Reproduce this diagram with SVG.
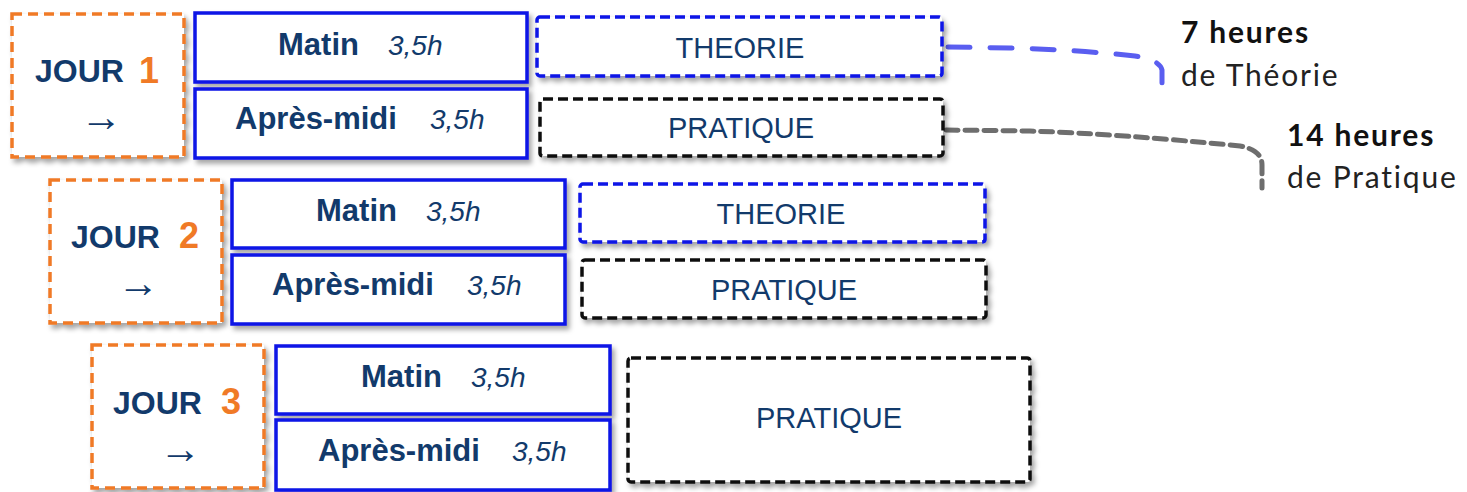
<svg xmlns="http://www.w3.org/2000/svg" width="1467" height="492" viewBox="0 0 1467 492">
<defs>
<filter id="sh" x="-10%" y="-20%" width="125%" height="150%">
<feDropShadow dx="3" dy="4" stdDeviation="2.5" flood-color="#000" flood-opacity="0.35"/>
</filter>
<style>
.jour{fill:#fff;stroke:#f07a26;stroke-width:3.5;stroke-dasharray:10 6}
.slot{fill:#fff;stroke:#0a14e6;stroke-width:3.5}
.theo{fill:#fff;stroke:#0a14e6;stroke-width:3.5;stroke-dasharray:10 5}
.prat{fill:#fff;stroke:#111;stroke-width:3.5;stroke-dasharray:10 5}
.jt{font-family:"Liberation Sans",Arial,sans-serif;font-weight:bold;font-size:32px;fill:#123a6b}
.num{font-family:"Liberation Sans",Arial,sans-serif;font-weight:bold;font-size:36px;fill:#f07a26}
.arr{font-family:"Liberation Serif",serif;font-size:42px;fill:#123a6b}
.st{font-family:"Liberation Sans",Arial,sans-serif;font-weight:bold;font-size:31px;fill:#123a6b}
.hr{font-family:"Liberation Sans",Arial,sans-serif;font-style:italic;font-size:28px;fill:#123a6b}
.lbl{font-family:"Liberation Sans",Arial,sans-serif;font-size:29px;fill:#123a6b;text-anchor:middle}
.rb{font-family:"Lato","Open Sans",sans-serif;font-weight:bold;font-size:30px;letter-spacing:1.8px;fill:#111}
.rn{font-family:"Lato","Open Sans",sans-serif;font-size:30px;letter-spacing:1.8px;fill:#222}
</style>
</defs>
<rect width="1467" height="492" fill="#fff"/>

<g id="connectors" fill="none" stroke-width="5" stroke-linecap="round">
<path d="M948 47 L1010 48 Q1080 50 1135 56 Q1160 60 1162 70 L1162 86" stroke="#5a5ef0" stroke-dasharray="22 20"/>
<path d="M946 130 L1030 131 Q1120 134 1240 146 Q1262 150 1262 165 L1262 188" stroke="#6e6e6e" stroke-dasharray="12 7"/>
</g>

<g id="day1">
<rect class="jour" x="12" y="14" width="172" height="143" filter="url(#sh)"/>
<text class="jt" x="35" y="82">JOUR</text>
<text class="num" x="139" y="83">1</text>
<text class="arr" x="80" y="131">→</text>
</g>
<g id="d1-matin"><rect class="slot" x="195" y="13" width="332" height="69" filter="url(#sh)"/>
<text class="st" x="278" y="55">Matin</text><text class="hr" x="388" y="55">3,5h</text></g>
<g id="d1-am"><rect class="slot" x="195" y="89" width="332" height="69" filter="url(#sh)"/>
<text class="st" x="235" y="129">Après-midi</text><text class="hr" x="430" y="129">3,5h</text></g>
<g id="d1-theorie"><rect class="theo" x="537" y="17" width="405" height="59" rx="3" filter="url(#sh)"/>
<text class="lbl" x="740" y="58">THEORIE</text></g>
<g id="d1-pratique"><rect class="prat" x="540" y="99" width="403" height="57" rx="3" filter="url(#sh)"/>
<text class="lbl" x="741" y="138">PRATIQUE</text></g>

<g id="day2">
<rect class="jour" x="50" y="180" width="172" height="143" filter="url(#sh)"/>
<text class="jt" x="71" y="248">JOUR</text>
<text class="num" x="179" y="248">2</text>
<text class="arr" x="117" y="297">→</text>
</g>
<g id="d2-matin"><rect class="slot" x="232" y="180" width="333" height="68" filter="url(#sh)"/>
<text class="st" x="316" y="221">Matin</text><text class="hr" x="426" y="221">3,5h</text></g>
<g id="d2-am"><rect class="slot" x="232" y="255" width="333" height="69" filter="url(#sh)"/>
<text class="st" x="272" y="295">Après-midi</text><text class="hr" x="467" y="295">3,5h</text></g>
<g id="d2-theorie"><rect class="theo" x="580" y="184" width="405" height="58" rx="3" filter="url(#sh)"/>
<text class="lbl" x="781" y="224">THEORIE</text></g>
<g id="d2-pratique"><rect class="prat" x="582" y="260" width="404" height="58" rx="3" filter="url(#sh)"/>
<text class="lbl" x="784" y="300">PRATIQUE</text></g>

<g id="day3">
<rect class="jour" x="92" y="345" width="172" height="143" filter="url(#sh)"/>
<text class="jt" x="113" y="414">JOUR</text>
<text class="num" x="221" y="414">3</text>
<text class="arr" x="159" y="463">→</text>
</g>
<g id="d3-matin"><rect class="slot" x="276" y="346" width="334" height="68" filter="url(#sh)"/>
<text class="st" x="361" y="387">Matin</text><text class="hr" x="471" y="387">3,5h</text></g>
<g id="d3-am"><rect class="slot" x="276" y="420" width="334" height="70" filter="url(#sh)"/>
<text class="st" x="318" y="461">Après-midi</text><text class="hr" x="512" y="461">3,5h</text></g>
<g id="d3-pratique"><rect class="prat" x="628" y="358" width="402" height="124" rx="3" filter="url(#sh)"/>
<text class="lbl" x="829" y="428">PRATIQUE</text></g>

<g id="note-theorie">
<text class="rb" x="1181" y="43">7 heures</text>
<text class="rn" x="1181" y="86">de Théorie</text>
</g>
<g id="note-pratique">
<text class="rb" x="1287" y="146">14 heures</text>
<text class="rn" x="1287" y="188">de Pratique</text>
</g>
</svg>
